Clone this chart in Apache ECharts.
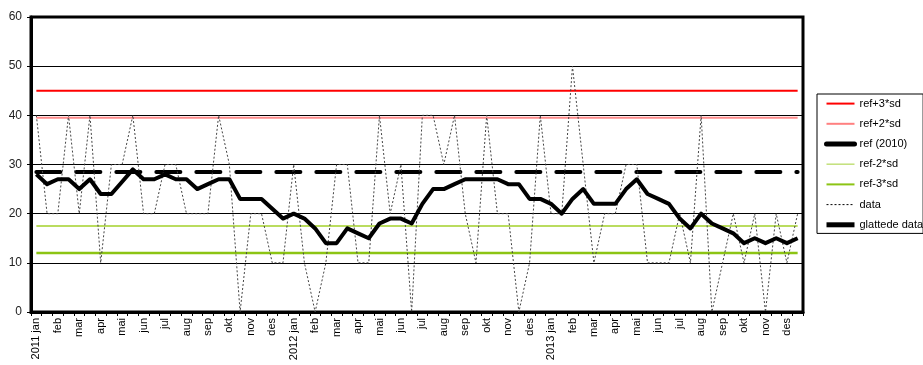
<!DOCTYPE html>
<html>
<head>
<meta charset="utf-8">
<script src="https://cdn.jsdelivr.net/npm/echarts@6/dist/echarts.min.js"></script>
<style>
  html, body { margin: 0; padding: 0; background: #fff; }
  #chart { width: 923px; height: 365px; }
</style>
</head>
<body>
<div id="chart"></div>
<script>
// tick labels, one per month (two periods per month)
const monthLabels = [
  "2011 jan", "feb", "mar", "apr", "mai", "jun", "jul", "aug", "sep", "okt", "nov", "des",
  "2012 jan", "feb", "mar", "apr", "mai", "jun", "jul", "aug", "sep", "okt", "nov", "des",
  "2013 jan", "feb", "mar", "apr", "mai", "jun", "jul", "aug", "sep", "okt", "nov", "des"
];

// raw values, two per month
const dataValues = [
  40, 20, 20, 40, 20, 40, 10, 30, 30, 40, 20, 20, 30, 30, 20, 20, 20, 40, 30, 0,
  20, 20, 10, 10, 30, 10, 0, 10, 30, 30, 10, 10, 40, 20, 30, 0, 40, 40, 30, 40,
  20, 10, 40, 20, 20, 0, 10, 40, 20, 20, 50, 30, 10, 20, 20, 30, 30, 10, 10, 10,
  20, 10, 40, 0, 10, 20, 10, 20, 0, 20, 10, 20
];

// smoothed values
const smoothValues = [
  28, 26, 27, 27, 25, 27, 24, 24, 26.5, 29, 27, 27, 28, 27, 27, 25, 26, 27, 27, 23,
  23, 23, 21, 19, 20, 19, 17, 14, 14, 17, 16, 15, 18, 19, 19, 18, 22, 25, 25, 26,
  27, 27, 27, 27, 26, 26, 23, 23, 22, 20, 23, 25, 22, 22, 22, 25, 27, 24, 23, 22,
  19, 17, 20, 18, 17, 16, 14, 15, 14, 15, 14, 15
];

// reference levels
const refPlus3 = 45;
const refPlus2 = 39.5;
const refLevel = 28.5;
const refMinus2 = 17.5;
const refMinus3 = 12;

const periods = monthLabels.flatMap((m, k) => [k + "a", k + "b"]);
const first = periods[0];
const last = periods[periods.length - 1];

function refLine(name, value, style) {
  return {
    name: name,
    type: "line",
    symbol: "none",
    silent: true,
    itemStyle: { color: style.color },
    lineStyle: style,
    data: [[first, value], [last, value]]
  };
}

const font = "Liberation Sans, Arial, sans-serif";

const chart = echarts.init(document.getElementById("chart"));
chart.setOption({
  animation: false,
  textStyle: { fontFamily: font },
  grid: {
    left: 31, right: 120, top: 17, bottom: 53,
    show: true, borderColor: "#000", borderWidth: 3
  },
  legend: {
    orient: "vertical",
    left: 817, top: 94,
    padding: [4, 0, 3, 7],
    itemWidth: 28, itemHeight: 14, itemGap: 9,
    borderColor: "#000", borderWidth: 1,
    itemStyle: { opacity: 0 },
    textStyle: { fontSize: 11, color: "#000", fontFamily: font },
    data: [
      { name: "ref+3*sd", lineStyle: { color: "#ff0000", width: 2, type: "solid" } },
      { name: "ref+2*sd", lineStyle: { color: "#ff8080", width: 2, type: "solid" } },
      { name: "ref (2010)", lineStyle: { color: "#000", width: 5, type: "solid" } },
      { name: "ref-2*sd", lineStyle: { color: "#c2e07a", width: 1.5, type: "solid" } },
      { name: "ref-3*sd", lineStyle: { color: "#8cc414", width: 2, type: "solid" } },
      { name: "data", lineStyle: { color: "#000", width: 1, type: [2, 2] } },
      { name: "glattede data", lineStyle: { color: "#000", width: 5, type: "solid" } }
    ]
  },
  xAxis: {
    type: "category",
    data: periods,
    boundaryGap: true,
    axisLine: { show: true, lineStyle: { color: "#000", width: 3 } },
    axisTick: { show: true, interval: 0, length: 4, lineStyle: { color: "#000", width: 1 } },
    axisLabel: {
      interval: 0,
      rotate: 90,
      margin: 6,
      fontSize: 11,
      color: "#000",
      fontFamily: font,
      formatter: (v, i) => (i % 2 === 0 ? monthLabels[i / 2] : "")
    },
    splitLine: { show: false }
  },
  yAxis: {
    type: "value",
    min: 0, max: 60, interval: 10,
    axisLine: { show: true, lineStyle: { color: "#000", width: 3 } },
    axisTick: { show: true, length: 4, lineStyle: { color: "#000", width: 1 } },
    axisLabel: { fontSize: 12, color: "#222", margin: 9, fontFamily: font },
    splitLine: { show: true, lineStyle: { color: "#000", width: 1 } }
  },
  series: [
    refLine("ref+3*sd", refPlus3, { color: "#ff0000", width: 2 }),
    refLine("ref+2*sd", refPlus2, { color: "#ff8c8c", width: 2 }),
    refLine("ref (2010)", refLevel, { color: "#000", width: 4, type: [24, 16], cap: "round" }),
    refLine("ref-2*sd", refMinus2, { color: "#a3d12a", width: 1.5 }),
    refLine("ref-3*sd", refMinus3, { color: "#8cc414", width: 2.5 }),
    {
      name: "data",
      type: "line",
      symbol: "none",
      data: dataValues,
      itemStyle: { color: "#444" },
      lineStyle: { color: "#444", width: 1, type: [2, 2] }
    },
    {
      name: "glattede data",
      type: "line",
      symbol: "none",
      data: smoothValues,
      itemStyle: { color: "#000" },
      lineStyle: { color: "#000", width: 4, type: "solid", join: "round" }
    }
  ]
});
</script>
</body>
</html>
